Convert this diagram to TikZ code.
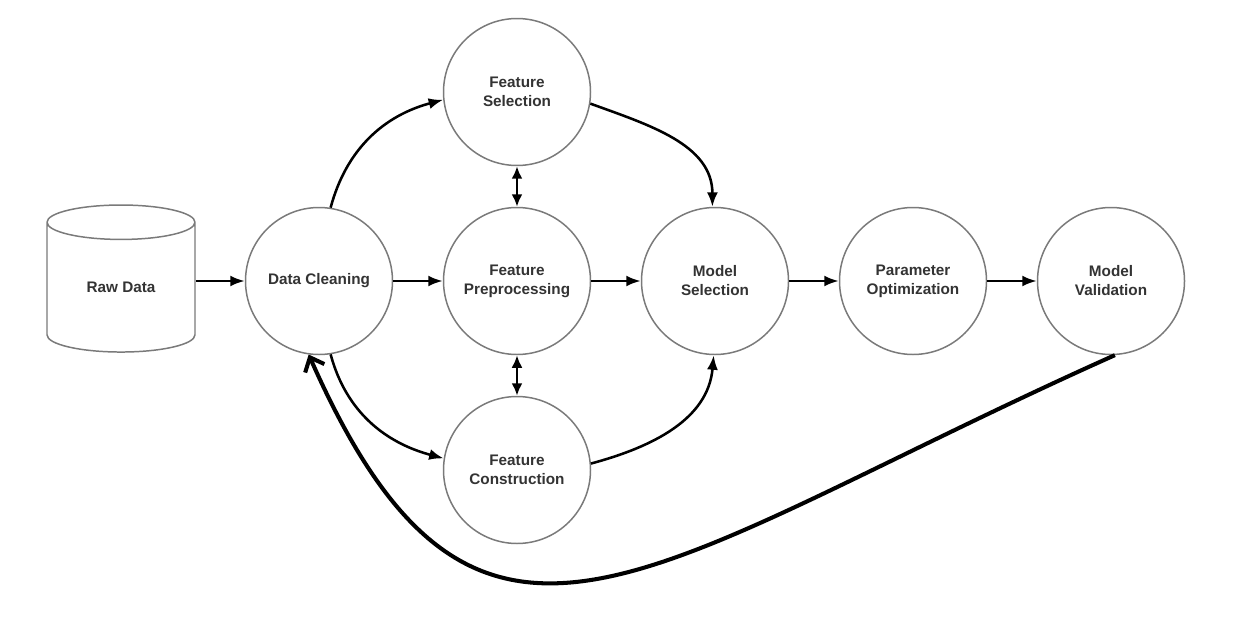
\documentclass[tikz,border=0pt]{standalone}
\usepackage{fontspec}
\setmainfont{Liberation Sans}
\usepackage{tikz}
\usetikzlibrary{shapes,arrows,arrows.meta,positioning}

\definecolor{ringgray}{HTML}{7A7A7A}
\definecolor{labelgray}{HTML}{333333}

\tikzset{
  stage/.style = {circle, draw = ringgray, line width = 0.85pt, minimum size = 2.94cm, inner sep = 0pt, align = center, text = labelgray, font = \fontsize{8.7}{10.8}\selectfont\bfseries},
  store/.style = {cylinder, shape border rotate = 90, aspect = 0.5, draw = ringgray, line width = 0.85pt, minimum width = 2.96cm, minimum height = 2.94cm, inner sep = 0pt, text = labelgray, font = \fontsize{8.7}{10.8}\selectfont\bfseries},
  flow/.style = {-{Latex[length = 2.9mm, width = 2.2mm]}, line width = 1.45pt},
  twoway/.style = {{Latex[length = 2.5mm, width = 2.2mm]}-{Latex[length = 2.5mm, width = 2.2mm]}, line width = 1.45pt},
  back/.style = {-{Straight Barb[length = 2.4mm, width = 4.2mm]}, line width = 2.3pt}
}

\begin{document}
\begin{tikzpicture}
\useasboundingbox (0, 0) rectangle (24.68, 12.4);

\node (raw) at (2.42, 6.65) [store] {Raw Data};
\node (clean) at (6.38, 6.78) [stage] {Data Cleaning};

\node (fsel) at (10.34, 10.56) [stage] {Feature\\Selection};
\node (fpre) at (10.34, 6.78) [stage] {Feature\\Preprocessing};
\node (fcon) at (10.34, 3.00) [stage] {Feature\\Construction};

\node (msel) at (14.30, 6.78) [stage] {Model\\Selection};
\node (popt) at (18.26, 6.78) [stage] {Parameter\\Optimization};
\node (mval) at (22.22, 6.78) [stage] {Model\\Validation};

\draw[flow] (raw.east |- clean) to (clean);
\draw[flow] (clean) to (fpre);
\draw[flow] (fpre) to (msel);
\draw[flow] (msel) to (popt);
\draw[flow] (popt) to (mval);

\draw[flow] (clean.81) to [out = 75, in = 195] (fsel.186);
\draw[flow] (clean.-81) to [out = -75, in = 165] (fcon.171);

\draw[twoway] (fsel) to (fpre);
\draw[twoway] (fpre) to (fcon);

\draw[flow] (fsel.-9) to [out = -20, in = 90] (msel.92);
\draw[flow] (fcon.5) to [out = 15, in = -95] (msel.-91);

% loop back from validation
\draw[back] (mval.-87) .. controls +(-9.4, -4.2) and +(3.4, -7.7) .. (clean.-98);
\end{tikzpicture}
\end{document}
